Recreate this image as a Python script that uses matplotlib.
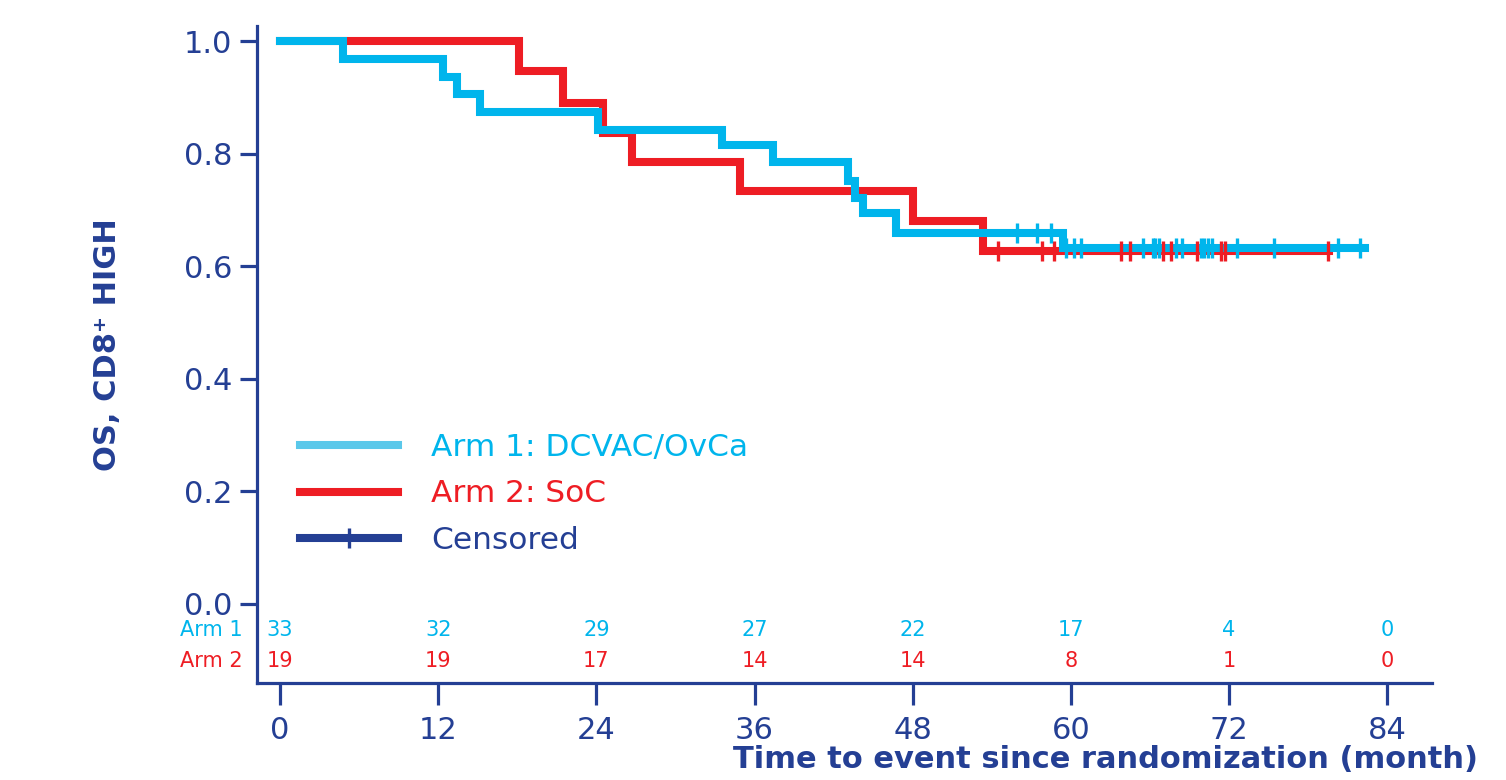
import numpy as np
import matplotlib
matplotlib.use("Agg")
import matplotlib.pyplot as plt
from matplotlib.lines import Line2D
import matplotlib.transforms as mtransforms

plt.rcParams['font.family'] = ['DejaVu Sans']

# --- data ---
arm1_times = [0, 4.8, 12.4, 13.4, 15.2, 24.1, 33.5, 37.4, 43.1, 43.6, 44.2, 46.7, 59.4, 82.3]
arm1_surv = [1.0, 0.968, 0.936, 0.906, 0.875, 0.842, 0.815, 0.785, 0.751, 0.722, 0.694, 0.66, 0.632, 0.632]
arm1_censor = [55.9, 57.4, 58.5, 59.6, 60.2, 60.8, 65.5, 66.2, 66.4, 66.7, 68.0, 68.4,
               69.9, 70.1, 70.4, 70.7, 72.6, 75.4, 80.3, 81.9]

arm2_times = [0, 18.1, 21.5, 24.5, 26.7, 34.9, 48.0, 53.3, 79.6]
arm2_surv = [1.0, 0.947, 0.89, 0.837, 0.786, 0.733, 0.68, 0.628, 0.628]
arm2_censor = [54.5, 57.8, 58.7, 63.8, 64.5, 67.0, 67.6, 69.6, 71.4, 71.7, 79.5]

risk_times = [0, 12, 24, 36, 48, 60, 72, 84]
arm1_risk = [33, 32, 29, 27, 22, 17, 4, 0]
arm2_risk = [19, 19, 17, 14, 14, 8, 1, 0]

x_ticks = [0, 12, 24, 36, 48, 60, 72, 84]
y_ticks = [0.0, 0.2, 0.4, 0.6, 0.8, 1.0]

CYAN = "#00B5EC"
CYAN_LEG = "#5AC8EA"
RED = "#EE1D24"
NAVY = "#243F94"


def surv_at(times, surv, t):
    idx = np.searchsorted(times, t, side='right') - 1
    return np.asarray(surv)[idx]


fig = plt.figure(figsize=(15.06, 7.8), dpi=100)
ax = fig.add_axes([257 / 1506, 1 - 683 / 780, 1175 / 1506, 657 / 780])

lw = 5.8
ax.step(arm2_times, arm2_surv, where='post', color=RED, lw=lw, zorder=2, solid_joinstyle='miter')
ax.step(arm1_times, arm1_surv, where='post', color=CYAN, lw=lw, zorder=3, solid_joinstyle='miter')
ax.plot(arm2_censor, surv_at(arm2_times, arm2_surv, arm2_censor), ls='none', marker='|',
        ms=14, mew=2.4, color=RED, zorder=4)
ax.plot(arm1_censor, surv_at(arm1_times, arm1_surv, arm1_censor), ls='none', marker='|',
        ms=14, mew=2.4, color=CYAN, zorder=5)

ax.set_xlim(-1.75, 87.4)
ax.set_ylim(-0.1406, 1.027)
ax.set_xticks(x_ticks)
ax.set_yticks(y_ticks)
ax.set_yticklabels([f"{v:.1f}" for v in y_ticks])
ax.tick_params(axis='both', colors=NAVY, labelsize=22, width=2.3, direction='out')
ax.tick_params(axis='x', length=16, pad=8)
ax.tick_params(axis='y', length=12, pad=6)
for side in ['top', 'right']:
    ax.spines[side].set_visible(False)
for side in ['left', 'bottom']:
    ax.spines[side].set_color(NAVY)
    ax.spines[side].set_linewidth(2.3)

# number at risk
row1, row2 = -0.046, -0.102
trans = mtransforms.blended_transform_factory(ax.transAxes, ax.transData)
ax.text(-0.012, row1, "Arm 1", transform=trans, ha='right', va='center', color=CYAN, fontsize=15)
ax.text(-0.012, row2, "Arm 2", transform=trans, ha='right', va='center', color=RED, fontsize=15)
for t, a, b in zip(risk_times, arm1_risk, arm2_risk):
    ax.text(t, row1, str(a), ha='center', va='center', color=CYAN, fontsize=15)
    ax.text(t, row2, str(b), ha='center', va='center', color=RED, fontsize=15)

# labels
ax.set_xlabel("Time to event since randomization (month)", color=NAVY, fontsize=22,
              fontweight='bold', ha='right', va='center')
ax.xaxis.set_label_coords((1478 - 257) / 1175, (683 - 760) / 657)
ax.set_ylabel("OS, CD8\u207a HIGH", color=NAVY, fontsize=22, fontweight='bold', va='center')
ax.yaxis.set_label_coords((107 - 257) / 1175, (683 - 345) / 657)

# legend
handles = [
    Line2D([], [], color=CYAN_LEG, lw=lw),
    Line2D([], [], color=RED, lw=lw),
    Line2D([], [], color=NAVY, lw=lw, marker='|', ms=14, mew=2.4),
]
labels = ["Arm 1: DCVAC/OvCa", "Arm 2: SoC", "Censored"]
leg = ax.legend(handles, labels, loc='center left', bbox_to_anchor=((300 - 257) / 1175, (683 - 494) / 657),
                frameon=False, handlelength=3.15, handletextpad=1.05, labelspacing=0.55,
                borderpad=0, borderaxespad=0, numpoints=1,
                labelcolor=[CYAN, RED, NAVY], prop={'weight': 'normal', 'size': 22.5})

fig.savefig("out.png", dpi=100)
